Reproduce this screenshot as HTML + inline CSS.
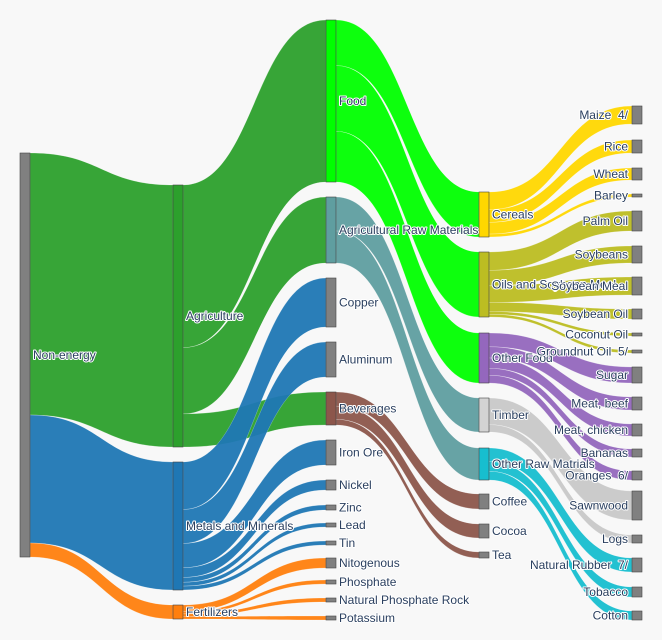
<!DOCTYPE html>
<html><head><meta charset="utf-8">
<style>
html,body{margin:0;padding:0;background:#f8f8f8;}
svg{display:block;}
text{font-family:"Liberation Sans",sans-serif;font-size:12px;fill:#2a3f5f;paint-order:stroke;stroke:#fff;stroke-width:2px;stroke-linejoin:round;white-space:pre;}
</style></head>
<body>
<svg id="s" width="662" height="640" xmlns="http://www.w3.org/2000/svg"><rect width="662" height="640" fill="#f8f8f8"/><g id="L"></g><g id="N"></g><g id="T"></g></svg>
<script>
var C=[20,173,326,479,632],W=10;
var G='#808080';
var nodes={
'Non-energy':[0,153,557,G],
'Agriculture':[1,185,447,'#2ca02c'],'Metals and Minerals':[1,462,590,'#1f77b4'],'Fertilizers':[1,605,619,'#ff7f0e'],
'Food':[2,20,182,'#00ff00'],'Agricultural Raw Materials':[2,197,263,'#5f9ea0'],'Copper':[2,278,327,G],'Aluminum':[2,342,377,G],'Beverages':[2,392,425,'#8c564b'],'Iron Ore':[2,440,465,G],'Nickel':[2,480,490,G],'Zinc':[2,505,510,G],'Lead':[2,523,527,G],'Tin':[2,541,545,G],'Nitogenous':[2,558,568,G],'Phosphate':[2,580,584,G],'Natural Phosphate Rock':[2,598,602,G],'Potassium':[2,616,620,G],
'Cereals':[3,192,237,'#ffd700'],'Oils and Soybean Meal':[3,252,317,'#bcbd22'],'Other Food':[3,333,383,'#9467bd'],'Timber':[3,398,432,'#d3d3d3'],'Other Raw Matrials':[3,448,480,'#17becf'],'Coffee':[3,494,509,G],'Cocoa':[3,524,538,G],'Tea':[3,552,558,G],
'Maize  4/':[4,106,124,G],'Rice':[4,140,153,G],'Wheat':[4,168,180,G],'Barley':[4,194,197,G],'Palm Oil':[4,211,231,G],'Soybeans':[4,246,263,G],'Soybean Meal':[4,277,295,G],'Soybean Oil':[4,309,319,G],'Coconut Oil':[4,333,336,G],'Groundnut Oil  5/':[4,350,353,G],'Sugar':[4,367,383,G],'Meat, beef':[4,397,410,G],'Meat, chicken':[4,424,436,G],'Bananas':[4,449,457,G],'Oranges  6/':[4,471,480,G],'Sawnwood':[4,491,520,G],'Logs':[4,535,543,G],'Natural Rubber  7/':[4,558,572,G],'Tobacco':[4,587,597,G],'Cotton':[4,611,620,G]};
var links=[
['Non-energy','Agriculture','#2ca02c'],['Non-energy','Metals and Minerals','#1f77b4'],['Non-energy','Fertilizers','#ff7f0e'],
['Agriculture','Food','#2ca02c'],['Agriculture','Agricultural Raw Materials','#2ca02c'],['Agriculture','Beverages','#2ca02c'],
['Metals and Minerals','Copper','#1f77b4'],['Metals and Minerals','Aluminum','#1f77b4'],['Metals and Minerals','Iron Ore','#1f77b4'],['Metals and Minerals','Nickel','#1f77b4'],['Metals and Minerals','Zinc','#1f77b4'],['Metals and Minerals','Lead','#1f77b4'],['Metals and Minerals','Tin','#1f77b4'],
['Fertilizers','Nitogenous','#ff7f0e'],['Fertilizers','Phosphate','#ff7f0e'],['Fertilizers','Natural Phosphate Rock','#ff7f0e'],['Fertilizers','Potassium','#ff7f0e'],
['Food','Cereals','#00ff00'],['Food','Oils and Soybean Meal','#00ff00'],['Food','Other Food','#00ff00'],
['Agricultural Raw Materials','Timber','#5f9ea0'],['Agricultural Raw Materials','Other Raw Matrials','#5f9ea0'],
['Beverages','Coffee','#8c564b'],['Beverages','Cocoa','#8c564b'],['Beverages','Tea','#8c564b'],
['Cereals','Maize  4/','#ffd700'],['Cereals','Rice','#ffd700'],['Cereals','Wheat','#ffd700'],['Cereals','Barley','#ffd700'],
['Oils and Soybean Meal','Palm Oil','#bcbd22'],['Oils and Soybean Meal','Soybeans','#bcbd22'],['Oils and Soybean Meal','Soybean Meal','#bcbd22'],['Oils and Soybean Meal','Soybean Oil','#bcbd22'],['Oils and Soybean Meal','Coconut Oil','#bcbd22'],['Oils and Soybean Meal','Groundnut Oil  5/','#bcbd22'],
['Other Food','Sugar','#9467bd'],['Other Food','Meat, beef','#9467bd'],['Other Food','Meat, chicken','#9467bd'],['Other Food','Bananas','#9467bd'],['Other Food','Oranges  6/','#9467bd'],
['Timber','Sawnwood','#c8c8c8'],['Timber','Logs','#c8c8c8'],
['Other Raw Matrials','Natural Rubber  7/','#17becf'],['Other Raw Matrials','Tobacco','#17becf'],['Other Raw Matrials','Cotton','#17becf']];
var outSum={},off={};
links.forEach(function(l){var t=nodes[l[1]];l.v=t[2]-t[1];outSum[l[0]]=(outSum[l[0]]||0)+l.v;});
var Lg=document.getElementById('L'),Ng=document.getElementById('N'),Tg=document.getElementById('T');
var ns='http://www.w3.org/2000/svg';
function el(n,a,p){var e=document.createElementNS(ns,n);for(var k in a)e.setAttribute(k,a[k]);p.appendChild(e);return e;}
links.forEach(function(l){var s=nodes[l[0]],t=nodes[l[1]];var sh=s[2]-s[1];var w=l.v*sh/outSum[l[0]];var o=off[l[0]]||0;off[l[0]]=o+w;
var y0=s[1]+o,y1=y0+w,ty0=t[1],ty1=t[2];var x0=C[s[0]]+W,x1=C[t[0]];var m=(x0+x1)/2;
el('path',{d:'M'+x0+','+y0+'C'+m+','+y0+' '+m+','+ty0+' '+x1+','+ty0+'L'+x1+','+ty1+'C'+m+','+ty1+' '+m+','+y1+' '+x0+','+y1+'Z',fill:l[2],'fill-opacity':0.95,stroke:'#fff','stroke-width':0.4,'stroke-opacity':0.5},Lg);});
for(var k in nodes){var n=nodes[k];el('rect',{x:C[n[0]],y:n[1],width:W,height:Math.max(n[2]-n[1],2),fill:n[3],stroke:'#444','stroke-width':0.6},Ng);
var cy=(n[1]+n[2])/2+4;var t;
if(n[0]==4){t=el('text',{x:C[4]-4,y:cy,'text-anchor':'end'},Tg);}else{t=el('text',{x:C[n[0]]+W+3,y:cy},Tg);}
t.textContent=k;}
</script>
</body></html>
